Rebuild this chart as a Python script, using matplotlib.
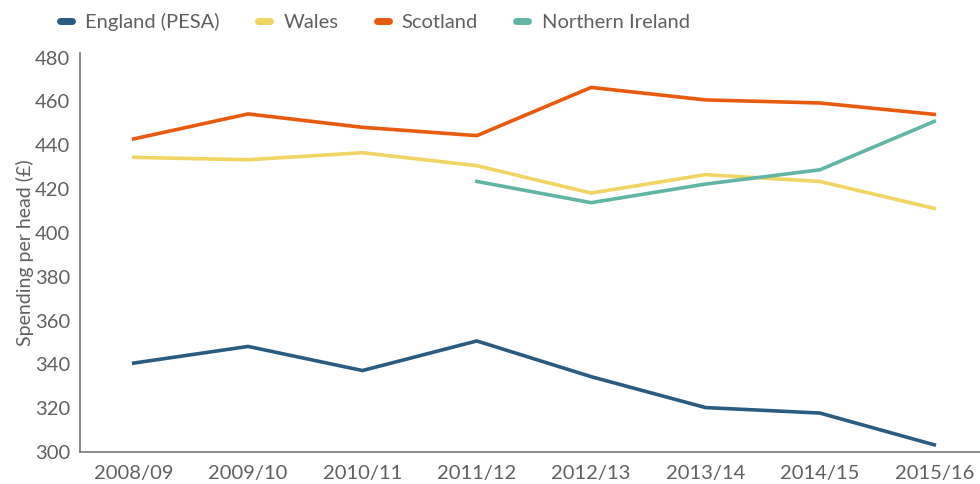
import matplotlib.pyplot as plt
from matplotlib.lines import Line2D

plt.rcParams["font.family"] = ["Lato", "DejaVu Sans"]

years = ["2008/09", "2009/10", "2010/11", "2011/12", "2012/13", "2013/14", "2014/15", "2015/16"]
england = [340.6, 348.2, 337.2, 350.7, 334.4, 320.3, 317.8, 303.3]
wales = [434.5, 433.4, 436.6, 430.7, 418.2, 426.6, 423.5, 411.2]
scotland = [442.9, 454.3, 448.2, 444.4, 466.4, 460.7, 459.3, 454.1]
ni_years = years[3:]
northern_ireland = [423.5, 413.8, 422.3, 428.8, 450.9]

COLORS = {
    "England (PESA)": "#2b5b80",
    "Wales": "#f0d565",
    "Scotland": "#e85a0e",
    "Northern Ireland": "#62b4a4",
}
TEXT = "#606060"

fig = plt.figure(figsize=(9.8, 4.84), dpi=100)
ax = fig.add_axes([0.0816, 0.066, 0.9184, 0.824])

x = list(range(len(years)))
x_ni = x[3:]
ax.plot(x, england, color=COLORS["England (PESA)"], lw=2.6)
ax.plot(x, wales, color=COLORS["Wales"], lw=2.6)
ax.plot(x, scotland, color=COLORS["Scotland"], lw=2.6)
ax.plot(x_ni, northern_ireland, color=COLORS["Northern Ireland"], lw=2.6)

ax.set_xlim(-0.47, 7.4)
ax.set_ylim(300, 482)
ax.set_yticks(range(300, 481, 20))
ax.set_xticks(x)
ax.set_xticklabels(years)
ax.tick_params(length=0, labelsize=14.5, colors=TEXT, pad=9)
ax.tick_params(axis="y", pad=7)
for side in ["top", "right"]:
    ax.spines[side].set_visible(False)
for side in ["left", "bottom"]:
    ax.spines[side].set_color("#777777")
    ax.spines[side].set_linewidth(1.2)
ax.set_ylabel("Spending per head (£)", fontsize=14, color=TEXT, labelpad=1)

handles = [
    Line2D([0], [0], color=c, lw=5, solid_capstyle="round") for c in COLORS.values()
]
fig.legend(
    handles, list(COLORS.keys()), loc="upper left", bbox_to_anchor=(0.043, 1.01),
    ncol=4, frameon=False, fontsize=14.5, handlelength=0.6, handletextpad=0.65,
    columnspacing=1.9, labelcolor=TEXT,
)

fig.savefig("out.png", dpi=100)
